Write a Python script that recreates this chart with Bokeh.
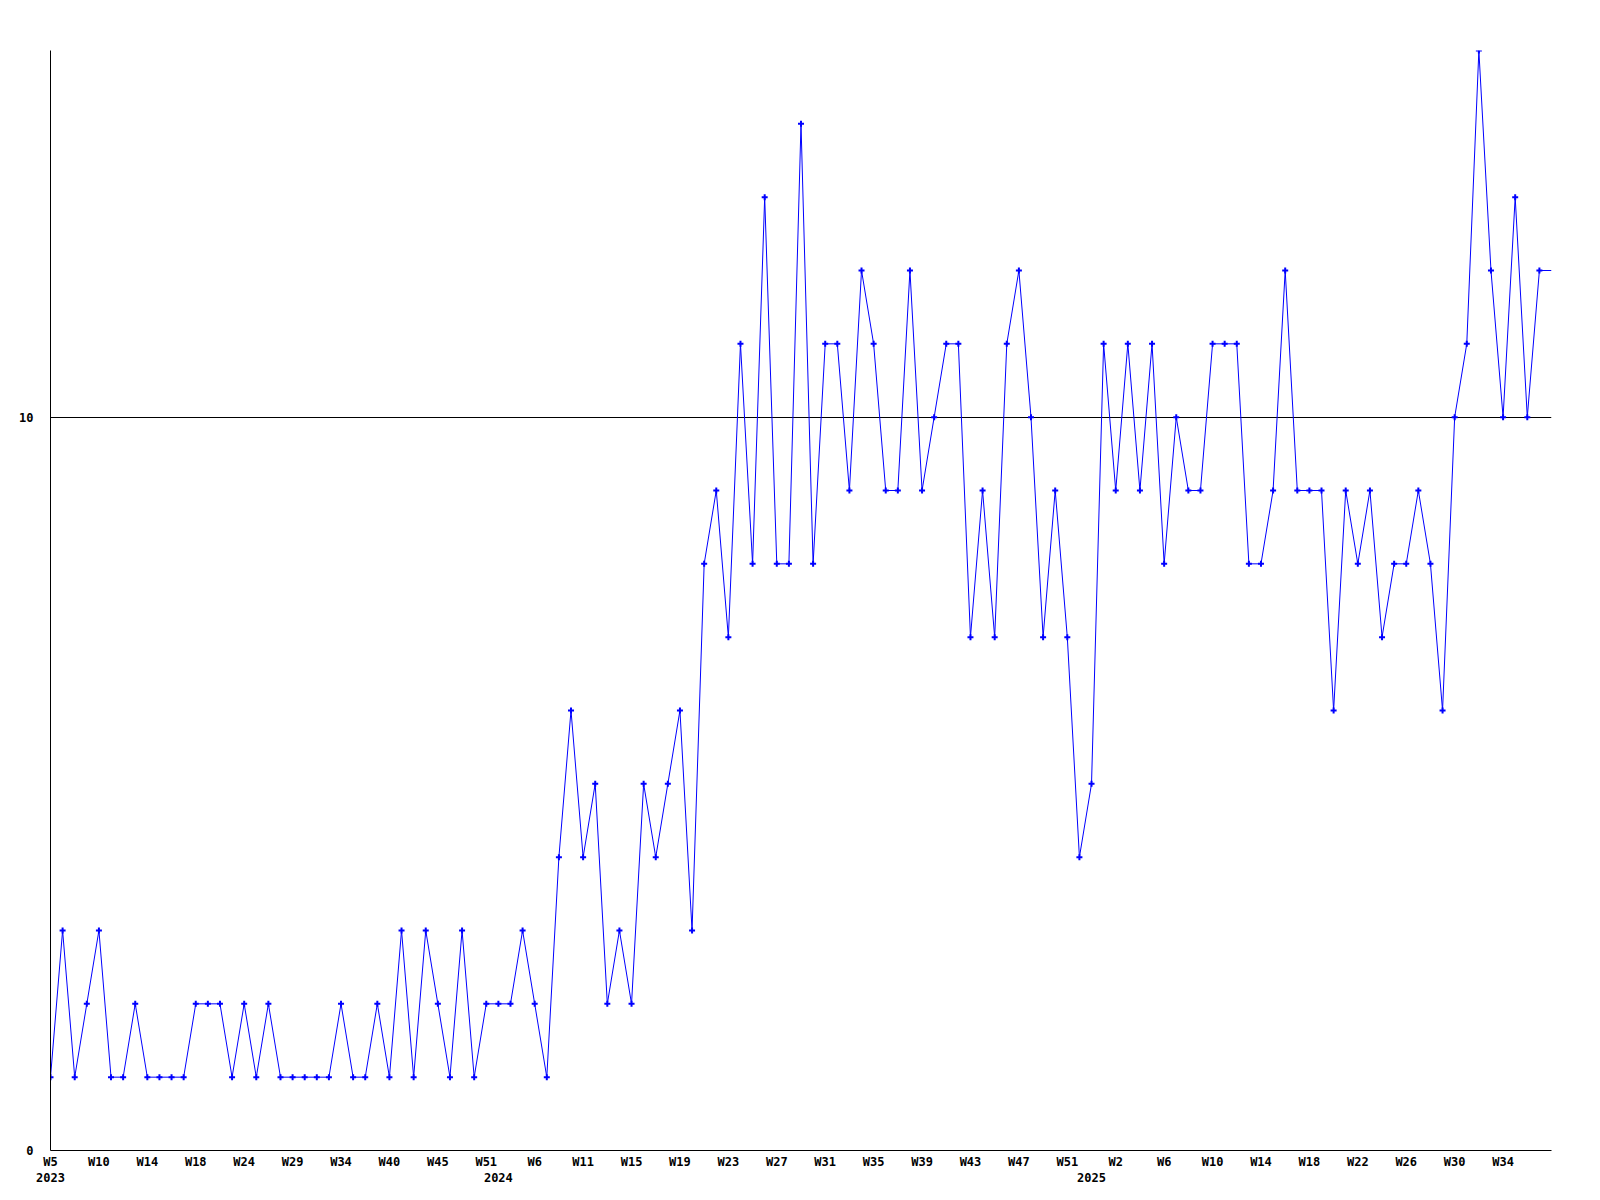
from bokeh.plotting import figure
from bokeh.models import Range1d, FixedTicker, LinearAxis, ColumnDataSource, Grid
from bokeh.embed import file_html
from bokeh.resources import INLINE

# ---- data ----
values = [
    1, 3, 1, 2, 3, 1, 1, 2, 1, 1, 1, 1, 2, 2, 2, 1, 2, 1, 2, 1, 1,
    1, 1, 1, 2, 1, 1, 2, 1, 3, 1, 3, 2, 1, 3, 1, 2, 2, 2, 3, 2, 1,
    4, 6, 4, 5, 2, 3, 2, 5, 4, 5, 6, 3, 8, 9, 7, 11, 8,
    13, 8, 8, 14, 8, 11, 11, 9, 12, 11, 9, 9, 12, 9, 10, 11, 11,
    7, 9, 7, 11, 12, 10, 7, 9, 7, 4, 5, 11, 9, 11, 9, 11, 8, 10,
    9, 9, 11, 11, 11, 8, 8, 9, 12, 9, 9, 9, 6, 9, 8, 9, 7, 8, 8, 9,
    8, 6, 10, 11, 15, 12, 10, 13, 10, 12,
]
tick_labels = ["W5", "W10", "W14", "W18", "W24", "W29", "W34", "W40", "W45", "W51",
               "W6", "W11", "W15", "W19", "W23", "W27", "W31", "W35", "W39", "W43",
               "W47", "W51", "W2", "W6", "W10", "W14", "W18", "W22", "W26", "W30", "W34"]
tick_step = 4
years = ["2023", "2024", "2025"]
year_first_index = [0, 37, 86]
y_ticks = [0, 10]
y_max = 15

n = len(values)
idx = list(range(n))

FONT = "DejaVu Sans Mono"

p = figure(output_backend="svg", toolbar_location=None,
           frame_width=1501, frame_height=1100,
           min_border_left=50, min_border_right=33, min_border_top=50, min_border_bottom=10,
           x_range=Range1d(0, n), y_range=Range1d(0, y_max),
           x_axis_type=None, y_axis_type=None)
p.outline_line_color = None
p.background_fill_color = "white"
p.border_fill_color = "white"


def style_axis(ax, standoff):
    ax.major_tick_out = 0
    ax.major_tick_in = 0
    ax.minor_tick_out = 0
    ax.minor_tick_in = 0
    ax.major_label_standoff = standoff
    ax.major_label_text_font = FONT
    ax.major_label_text_font_style = "bold"
    ax.major_label_text_font_size = "12px"
    ax.major_label_text_color = "black"


# x axis with week labels
xt = list(range(0, n, tick_step))
xaxis = LinearAxis(ticker=FixedTicker(ticks=xt),
                   major_label_overrides={t: lab for t, lab in zip(xt, tick_labels)})
style_axis(xaxis, 4)
xaxis.axis_line_color = "black"
xaxis.axis_line_width = 1
p.add_layout(xaxis, "below")

# year row
xaxis2 = LinearAxis(ticker=FixedTicker(ticks=year_first_index),
                    major_label_overrides={t: y for t, y in zip(year_first_index, years)})
style_axis(xaxis2, 1)
xaxis2.axis_line_color = None
p.add_layout(xaxis2, "below")

# y axis
yaxis = LinearAxis(ticker=FixedTicker(ticks=y_ticks))
style_axis(yaxis, 17)
yaxis.axis_line_color = "black"
p.add_layout(yaxis, "left")

# horizontal reference line at the upper y tick
g = Grid(dimension=1, ticker=FixedTicker(ticks=[t for t in y_ticks if t > 0]))
g.grid_line_color = "black"
g.grid_line_width = 1
p.add_layout(g)

# line extends flat to the right edge after the last point
src_line = ColumnDataSource(dict(x=idx + [n], y=values + [values[-1]]))
p.line("x", "y", source=src_line, line_color="#0000ff", line_width=1)
src_pts = ColumnDataSource(dict(x=idx, y=values))
p.scatter("x", "y", source=src_pts, marker="cross", size=6, line_width=2, line_color="#0000ff")

open("out.html", "w").write(file_html(p, INLINE))
